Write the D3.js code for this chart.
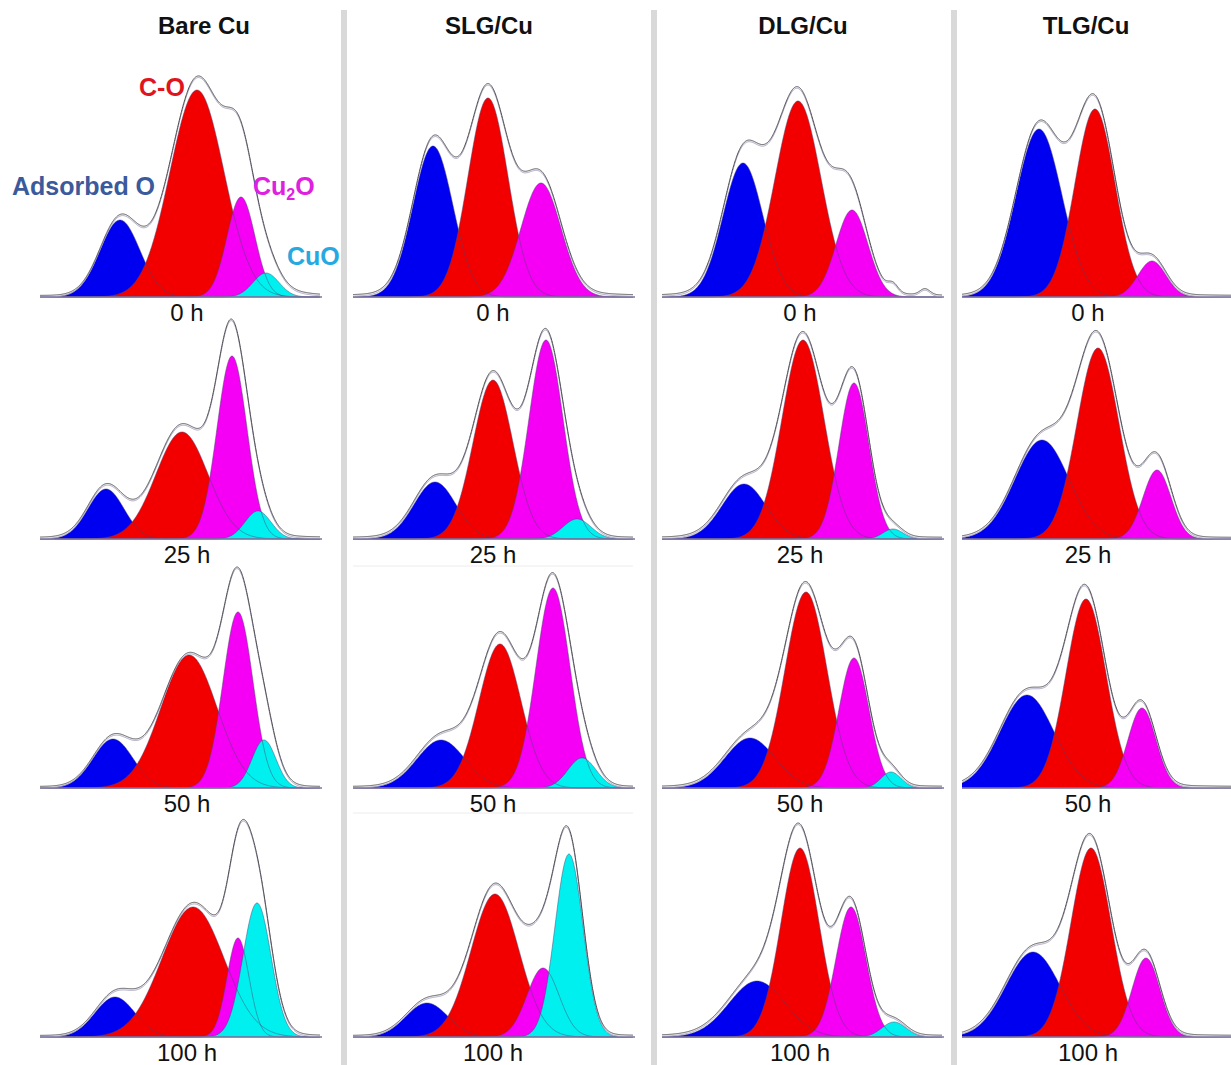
<!DOCTYPE html>
<html>
<head>
<meta charset="utf-8">
<script src="https://cdn.jsdelivr.net/npm/d3@7"></script>
<style>
  body { margin: 0; background: #fff; }
  svg { display: block; }
  text { font-family: "Liberation Sans", Arial, sans-serif; }
</style>
</head>
<body>
<div id="chart"></div>
<script>
const samples = ["Bare Cu", "SLG/Cu", "DLG/Cu", "TLG/Cu"];
const times = ["0 h", "25 h", "50 h", "100 h"];

// fitted components: [binding energy (eV), height (a.u.), sigma (eV)]
// outer index = sample, inner index = exposure time
const adsorbedO = [
  [[534.0, 38.5, 1.0], [534.7, 25, 0.9], [534.35, 24.5, 1.0], [534.25, 20, 1.0]],
  [[534.0, 75.5, 1.0], [533.9, 28.5, 1.05], [533.6, 24, 1.2], [534.3, 17, 1.05]],
  [[533.95, 67, 1.0], [533.9, 27.5, 1.1], [533.6, 25, 1.25], [533.25, 28, 1.4]],
  [[534.15, 84, 1.15], [534.0, 49.5, 1.35], [534.75, 46.5, 1.35], [534.45, 42.5, 1.35]]
];
const cO = [
  [[530.15, 103.5, 1.35], [530.9, 53.5, 1.3], [530.55, 66.5, 1.4], [530.35, 65, 1.55]],
  [[531.25, 99.5, 1.0], [531.0, 79.5, 1.0], [530.65, 72, 1.05], [530.9, 71.5, 1.2]],
  [[531.2, 98, 1.15], [530.95, 99.5, 1.05], [530.8, 98, 1.05], [531.1, 94.5, 0.95]],
  [[531.35, 94, 1.0], [531.2, 95.5, 1.05], [531.8, 94.5, 1.0], [531.55, 94.5, 1.0]]
];
const cu2O = [
  [[527.95, 50, 0.7], [528.4, 91.5, 0.75], [528.1, 88, 0.75], [528.1, 49.5, 0.55]],
  [[528.6, 57, 1.0], [528.35, 99.5, 0.85], [528.0, 100, 0.85], [528.5, 34.5, 0.8]],
  [[528.5, 43.5, 0.8], [528.4, 78, 0.75], [528.4, 65, 0.75], [528.55, 65, 0.75]],
  [[528.5, 18, 0.7], [528.25, 34.5, 0.7], [529.0, 40, 0.7], [528.8, 39.5, 0.7]]
];
const cuO = [
  [[526.7, 12, 0.65], [527.1, 14, 0.65], [526.8, 24, 0.6], [527.15, 67, 0.7]],
  [null, [526.8, 10, 0.7], [526.55, 15, 0.7], [527.2, 91.5, 0.7]],
  [null, [526.45, 5, 0.5], [526.55, 8, 0.5], [526.4, 7.5, 0.6]],
  [null, null, null, null]
];
// intensity in the measured envelope not assigned to a component
const background = [
  [[[528.5, 8, 2.0]], [[530.5, 3, 3.0], [528.25, 5, 0.75]], [[527.25, 7, 1.0]], [[528.0, 5, 1.5]]],
  [[[531.0, 3, 3.5]], [[531.0, 2.5, 3.0]], [[530.5, 3.5, 2.5]], [[530.0, 4.5, 2.25]]],
  [[[531.5, 4.5, 3.0], [529.2, 9, 0.7], [526.45, 4, 0.25], [524.85, 3, 0.25]], [[531.5, 2.5, 3.0]], [[531.0, 2, 3.0]], [[531.5, 2.5, 3.0]]],
  [[[532.0, 2, 3.0]], [[532.0, 1.5, 3.0], [528.75, 6, 1.0]], [[532.0, 2, 3.0]], [[532.0, 2, 3.0]]]
];

const fills = ["#0000f0", "#f20000", "#f500f5", "#00f0f0"];

// layout
const W = 1231, H = 1065;
const colX0 = [40, 353, 662, 962];
const rowBase = [297, 539, 788, 1037];
const panelW = 280, panelH = 220;
const labelX = [187, 493, 800, 1088];
const titleX = [204, 489, 803, 1086];
const separators = [341, 651, 951];

const svg = d3.select("#chart").append("svg")
    .attr("width", W)
    .attr("height", H);

svg.selectAll("rect.sep")
    .data(separators)
    .enter().append("rect")
    .attr("class", "sep")
    .attr("x", d => d)
    .attr("y", 10)
    .attr("width", 6)
    .attr("height", H - 10)
    .attr("fill", "#d9d9d9");

// faint frame lines of the pasted SLG panels
[566, 813].forEach(function(yy) {
    svg.append("line")
        .attr("x1", colX0[1]).attr("x2", colX0[1] + panelW)
        .attr("y1", yy).attr("y2", yy)
        .attr("stroke", "#ececec").attr("stroke-width", 1);
});

function gauss(p, e) {
    if (!p) return 0;
    var z = (e - p[0]) / p[2];
    return p[1] * Math.exp(-0.5 * z * z);
}

const energies = d3.range(538, 523.99, -0.02);

samples.forEach(function(sample, si) {
    times.forEach(function(time, ti) {
        var x = d3.scaleLinear().domain([538, 524]).range([colX0[si], colX0[si] + panelW]);
        var y = d3.scaleLinear().domain([0, 110]).range([rowBase[ti], rowBase[ti] - panelH]);
        var peaks = [adsorbedO, cO, cu2O, cuO].map(function(a) { return a[si][ti]; });
        var extra = background[si][ti];

        var area = d3.area()
            .x(function(d) { return x(d[0]); })
            .y0(y(0))
            .y1(function(d) { return y(d[1]); });
        var line = d3.line()
            .x(function(d) { return x(d[0]); })
            .y(function(d) { return y(d[1]); });

        var g = svg.append("g");

        peaks.forEach(function(p, k) {
            if (!p) return;
            var pts = energies.map(function(e) { return [e, gauss(p, e)]; });
            g.append("path")
                .attr("d", area(pts))
                .attr("fill", fills[k]);
        });

        peaks.forEach(function(p) {
            if (!p) return;
            var pts = energies.map(function(e) { return [e, gauss(p, e)]; });
            g.append("path")
                .attr("d", line(pts))
                .attr("fill", "none")
                .attr("stroke", "#4a4470")
                .attr("stroke-opacity", 0.55)
                .attr("stroke-width", 0.9);
        });

        g.append("line")
            .attr("x1", x(538)).attr("x2", x(524) + 2)
            .attr("y1", y(0)).attr("y2", y(0))
            .attr("stroke", "#7d74a0")
            .attr("stroke-width", 1.6);

        var env = energies.map(function(e) {
            return [e, d3.sum(peaks, function(p) { return gauss(p, e); }) +
                       d3.sum(extra, function(p) { return gauss(p, e); })];
        });
        g.append("path")
            .attr("d", line(env))
            .attr("fill", "none")
            .attr("stroke", "#a59fc0")
            .attr("stroke-width", 1);
        g.append("path")
            .attr("d", line(env))
            .attr("transform", "translate(0,-1.6)")
            .attr("fill", "none")
            .attr("stroke", "#505050")
            .attr("stroke-width", 1);

        svg.append("text")
            .attr("x", labelX[si])
            .attr("y", rowBase[ti] + 24)
            .attr("text-anchor", "middle")
            .attr("font-size", 24)
            .attr("fill", "#111")
            .text(time);
    });

    svg.append("text")
        .attr("x", titleX[si])
        .attr("y", 34)
        .attr("text-anchor", "middle")
        .attr("font-size", 24)
        .attr("font-weight", "bold")
        .attr("fill", "#111")
        .text(sample);
});

// component labels in the first panel
svg.append("text").attr("x", 12).attr("y", 195)
    .attr("font-size", 25).attr("font-weight", "bold").attr("fill", "#3a5a9c")
    .text("Adsorbed O");
svg.append("text").attr("x", 139).attr("y", 96)
    .attr("font-size", 25).attr("font-weight", "bold").attr("fill", "#e0141e")
    .text("C-O");
var cu2oLabel = svg.append("text").attr("x", 253).attr("y", 195)
    .attr("font-size", 25).attr("font-weight", "bold").attr("fill", "#e020e0");
cu2oLabel.append("tspan").text("Cu");
cu2oLabel.append("tspan").attr("font-size", 16).attr("dy", 5).text("2");
cu2oLabel.append("tspan").attr("dy", -5).text("O");
svg.append("text").attr("x", 287).attr("y", 265)
    .attr("font-size", 25).attr("font-weight", "bold").attr("fill", "#26a9e0")
    .text("CuO");
</script>
</body>
</html>
